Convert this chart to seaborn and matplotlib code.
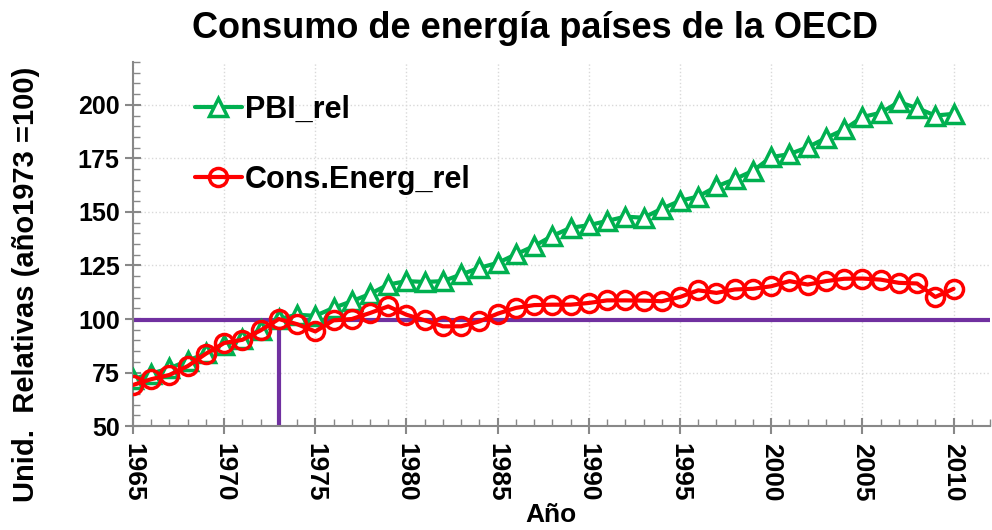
import pandas as pd
import seaborn as sns
import matplotlib.pyplot as plt
from matplotlib.ticker import MultipleLocator

# ----- data (1973 = 100) -----
years = list(range(1965, 2011))
pbi_rel = [72, 74.5, 77, 80.5, 84, 88, 90.5, 95, 100, 102, 101.5, 105.2,
           108.3, 111.7, 116.1, 117.7, 117.3, 117.7, 120.8, 123.9, 126.2,
           130.2, 134.1, 138.8, 142.6, 143.8, 145.8, 147.8, 147.3, 151.5,
           155.2, 157.2, 161.9, 165.3, 169.2, 175.6, 177, 180.2, 184.5, 188.5,
           194.3, 196.3, 201.3, 198.5, 195, 195.8]
energ_rel = [69.2, 71.9, 73.9, 78, 83.8, 88.8, 90.3, 94.7, 100, 97.6, 94.2,
             99.4, 100, 102.8, 105.9, 102, 99.4, 96.6, 96.6, 98.9, 102.5,
             105.2, 106.5, 106.7, 106.7, 107.5, 108.7, 108.7, 108.6, 108.3,
             110.3, 113.4, 112.2, 113.8, 114.1, 115.3, 117.7, 116.1, 117.7,
             118.8, 118.9, 118.4, 116.9, 116.6, 110.3, 114.1]
ref_year = 1973
ref_value = 99.4

df = pd.DataFrame({'Año': years, 'PBI_rel': pbi_rel, 'Cons.Energ_rel': energ_rel})

sns.set_style("white")
plt.rcParams['font.family'] = ['Liberation Sans', 'DejaVu Sans']
plt.rcParams['font.weight'] = 'bold'
plt.rcParams['text.color'] = 'black'
plt.rcParams['axes.labelcolor'] = 'black'
plt.rcParams['xtick.labelcolor'] = 'black'
plt.rcParams['ytick.labelcolor'] = 'black'

fig = plt.figure(figsize=(9.92, 5.30), dpi=100)
ax = fig.add_axes([0.134, 0.196, 0.864, 0.687])

green = '#00B050'
red = '#FF0000'
purple = '#7030A0'

# reference lines (1973 = 100)
ax.axhline(ref_value, color=purple, lw=3, zorder=1)
ax.vlines(ref_year, 50, ref_value, color=purple, lw=3, zorder=1)

sns.lineplot(data=df, x='Año', y='PBI_rel', ax=ax, color=green, lw=3,
             marker='^', markersize=13, markerfacecolor='white',
             markeredgecolor=green, markeredgewidth=2.5, label='PBI_rel', zorder=3)
sns.lineplot(data=df, x='Año', y='Cons.Energ_rel', ax=ax, color=red, lw=3,
             marker='o', markersize=13, markerfacecolor='none',
             markeredgecolor=red, markeredgewidth=2.5, label='Cons.Energ_rel', zorder=4)

ax.set_xlim(1965, 2012)
ax.set_ylim(50, 220)
ax.xaxis.set_major_locator(MultipleLocator(5))
ax.xaxis.set_minor_locator(MultipleLocator(1))
ax.yaxis.set_minor_locator(MultipleLocator(5))
ax.set_yticks([50, 75, 100, 125, 150, 175, 200])

ax.grid(True, which='major', color='#d9d9d9', ls=':', lw=1)
for s in ['top', 'right']:
    ax.spines[s].set_visible(False)
for s in ['left', 'bottom']:
    ax.spines[s].set_color('#888888')
    ax.spines[s].set_linewidth(1.5)

ax.tick_params(which='major', direction='inout', length=12, width=1.5,
               color='#888888', labelsize=18)
ax.tick_params(axis='x', which='major', labelsize=19, pad=6)
ax.tick_params(which='minor', direction='in', length=5, width=1,
               color='#888888')
ax.tick_params(axis='x', which='both', bottom=True)
ax.tick_params(axis='y', which='both', left=True)
plt.setp(ax.get_xticklabels(), rotation=-90, fontweight='bold')
plt.setp(ax.get_yticklabels(), fontweight='bold')

ax.set_xlabel('Año', fontsize=19, fontweight='bold')
ax.xaxis.set_label_coords(0.488, -0.21)
ax.set_ylabel('Unid.  Relativas (año1973 =100)', fontsize=21,
              fontweight='bold')
ax.yaxis.set_label_coords(-0.108, 0.39)
fig.text(0.539, 0.947, 'Consumo de energía países de la OECD', fontsize=26,
         fontweight='bold', ha='center', va='center')

ax.legend(loc='upper left', bbox_to_anchor=(0.04, 0.985), frameon=False,
          labelspacing=1.3, handlelength=1.55, handletextpad=0.1,
          prop={'size': 22, 'weight': 'bold'})

fig.savefig('out.png', dpi=100)
